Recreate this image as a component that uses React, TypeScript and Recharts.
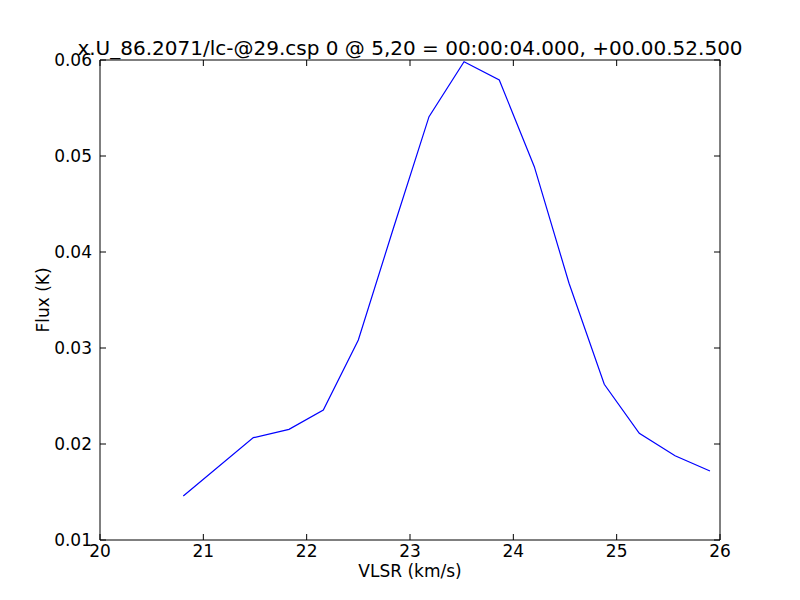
import React from "react";
import { LineChart, Line, XAxis, YAxis } from "recharts";

const TITLE = "x.U_86.2071/lc-@29.csp 0 @ 5,20 = 00:00:04.000, +00.00.52.500";
const X_LABEL = "VLSR (km/s)";
const Y_LABEL = "Flux (K)";

const velocity = [
  20.806, 21.484, 21.829, 22.161, 22.5, 22.84, 23.184, 23.523, 23.864, 24.203,
  24.539, 24.88, 25.219, 25.565, 25.903,
];
const flux = [
  0.01458, 0.02066, 0.02153, 0.02354, 0.03083, 0.0425, 0.0541, 0.05982, 0.05792,
  0.04889, 0.03674, 0.02622, 0.02111, 0.01878, 0.01719,
];
const xTicks = [20, 21, 22, 23, 24, 25, 26];
const yTicks = [0.01, 0.02, 0.03, 0.04, 0.05, 0.06];

const data = velocity.map((v, i) => ({ v, f: flux[i] }));

const FONT = "'DejaVu Sans', sans-serif";
const FS = 17;
const TITLE_FS = 20;
const TL = 6;

const BottomTick = (props: any) => {
  const { x, y, payload } = props;
  return (
    <g>
      <line x1={x} y1={y} x2={x} y2={y - TL} stroke="#000" strokeWidth={1} />
      <text x={x} y={y + 17} textAnchor="middle" fontFamily={FONT} fontSize={FS} fill="#000">
        {payload.value}
      </text>
    </g>
  );
};

const TopTick = (props: any) => {
  const { x, y } = props;
  return <line x1={x} y1={y} x2={x} y2={y + TL} stroke="#000" strokeWidth={1} />;
};

const LeftTick = (props: any) => {
  const { x, y, payload } = props;
  return (
    <g>
      <line x1={x} y1={y} x2={x + TL} y2={y} stroke="#000" strokeWidth={1} />
      <text x={x - 8} y={y + 6} textAnchor="end" fontFamily={FONT} fontSize={FS} fill="#000">
        {Number(payload.value).toFixed(2)}
      </text>
    </g>
  );
};

const RightTick = (props: any) => {
  const { x, y } = props;
  return <line x1={x} y1={y} x2={x - TL} y2={y} stroke="#000" strokeWidth={1} />;
};

export default function App() {
  return (
    <div style={{ position: "absolute", left: 0, top: 0, width: 800, height: 600, background: "#fff" }}>
      <LineChart
        width={800}
        height={600}
        data={data}
        margin={{ top: 30, right: 40, bottom: 30, left: 40 }}
      >
        <XAxis
          dataKey="v"
          type="number"
          domain={[20, 26]}
          ticks={xTicks}
          allowDataOverflow
          tickLine={false}
          tickSize={0}
          tickMargin={0}
          height={30}
          axisLine={{ stroke: "#000", strokeWidth: 1 }}
          tick={<BottomTick />}
          label={(p: any) => {
            const vb = p.viewBox || { x: 100, y: 540, width: 620, height: 30 };
            return (
              <text x={vb.x + vb.width / 2} y={vb.y + 37} textAnchor="middle" fontFamily={FONT} fontSize={FS} fill="#000">
                {X_LABEL}
              </text>
            );
          }}
        />
        <XAxis
          xAxisId="top"
          dataKey="v"
          orientation="top"
          type="number"
          domain={[20, 26]}
          ticks={xTicks}
          allowDataOverflow
          tickLine={false}
          tickSize={0}
          tickMargin={0}
          height={30}
          axisLine={{ stroke: "#000", strokeWidth: 1 }}
          tick={<TopTick />}
          label={(p: any) => {
            const vb = p.viewBox || { x: 100, y: 30, width: 620, height: 30 };
            return (
              <text x={vb.x + vb.width / 2} y={vb.y + vb.height - 5} textAnchor="middle" fontFamily={FONT} fontSize={TITLE_FS} fill="#000">
                {TITLE}
              </text>
            );
          }}
        />
        <YAxis
          type="number"
          domain={[0.01, 0.06]}
          ticks={yTicks}
          allowDataOverflow
          tickLine={false}
          tickSize={0}
          tickMargin={0}
          width={60}
          axisLine={{ stroke: "#000", strokeWidth: 1 }}
          tick={<LeftTick />}
          label={(p: any) => {
            const vb = p.viewBox || { x: 40, y: 60, width: 60, height: 480 };
            const cx = vb.x + 9;
            const cy = vb.y + vb.height / 2;
            return (
              <text x={cx} y={cy} transform={`rotate(-90 ${cx} ${cy})`} textAnchor="middle" fontFamily={FONT} fontSize={FS} fill="#000">
                {Y_LABEL}
              </text>
            );
          }}
        />
        <YAxis
          yAxisId="right"
          orientation="right"
          type="number"
          domain={[0.01, 0.06]}
          ticks={yTicks}
          allowDataOverflow
          tickLine={false}
          tickSize={0}
          tickMargin={0}
          width={40}
          axisLine={{ stroke: "#000", strokeWidth: 1 }}
          tick={<RightTick />}
        />
        <Line
          dataKey="f"
          type="linear"
          stroke="#0000ff"
          strokeWidth={1.2}
          dot={false}
          activeDot={false}
          isAnimationActive={false}
        />
      </LineChart>
    </div>
  );
}
